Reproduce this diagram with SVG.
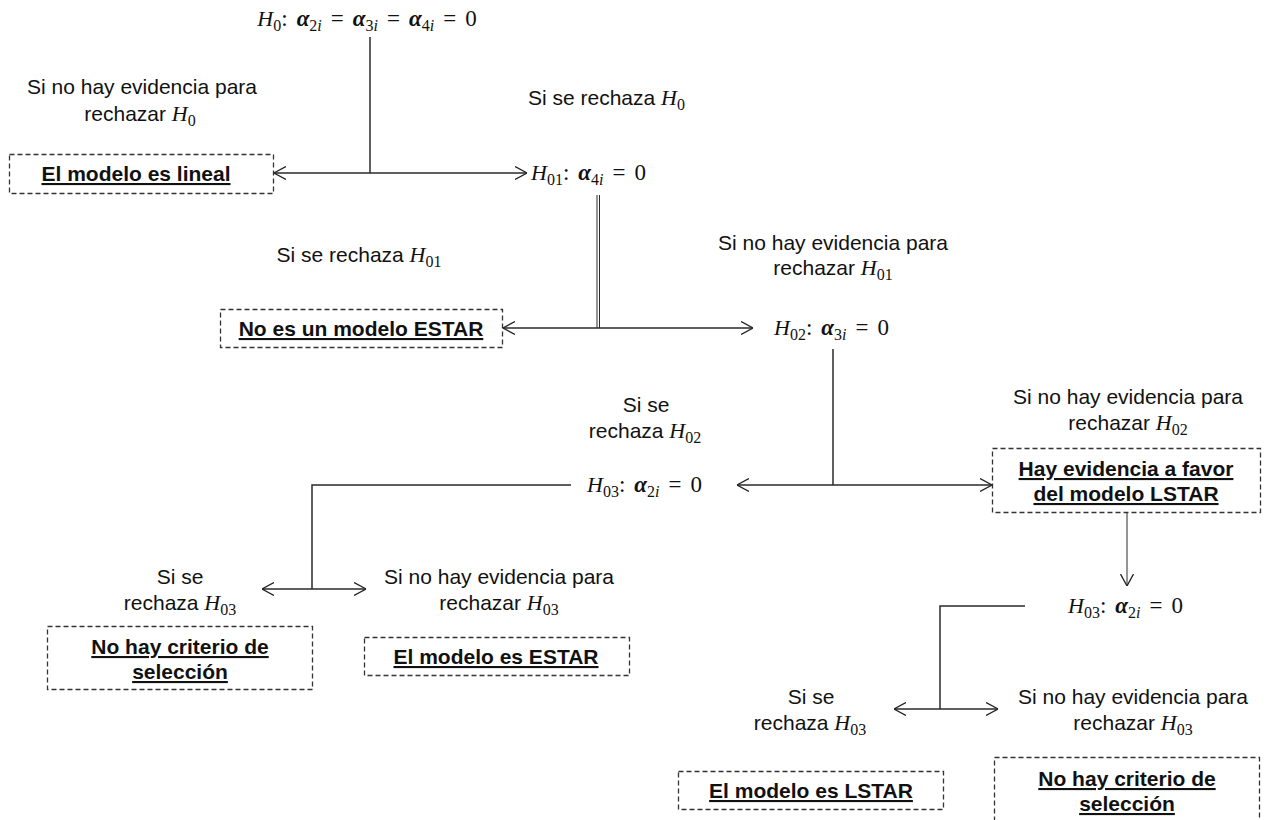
<svg xmlns="http://www.w3.org/2000/svg" width="1265" height="820" viewBox="0 0 1265 820">
<style>
.t{font-family:"Liberation Sans",Arial,sans-serif;font-size:21px;fill:#111;text-anchor:middle}
.ts{text-anchor:start}
.b{font-family:"Liberation Sans",Arial,sans-serif;font-size:21px;font-weight:bold;fill:#111;text-anchor:middle;text-decoration:underline}
.m{font-family:"Liberation Serif","DejaVu Serif",serif;font-size:23px;fill:#111}
.h{font-family:"Liberation Serif","DejaVu Serif",serif;font-style:italic;font-size:22px}
.s{font-family:"Liberation Serif","DejaVu Serif",serif;font-size:16px;font-style:normal;font-weight:normal}
.a{font-weight:bold;font-style:italic}
.i{font-style:italic}
.box{fill:none;stroke:#333;stroke-width:1.3;stroke-dasharray:5,3}
.c{fill:none;stroke:#2a2a2a;stroke-width:1.5}
.c1{fill:none;stroke:#2a2a2a;stroke-width:1}
</style>
<defs>
<marker id="ah" viewBox="0 0 12 14" refX="12" refY="7" markerWidth="12" markerHeight="14" markerUnits="userSpaceOnUse" orient="auto-start-reverse">
<path d="M0,0.5 L12,7 L0,13.5" fill="none" stroke="#222" stroke-width="1.3"/>
</marker>
</defs>
<g id="connectors">
<line class="c" x1="370" y1="37" x2="370" y2="173"/>
<line class="c" x1="274" y1="173" x2="527" y2="173" marker-start="url(#ah)" marker-end="url(#ah)"/>
<line class="c1" x1="597" y1="195" x2="597" y2="328"/>
<line class="c1" x1="599.5" y1="195" x2="599.5" y2="328"/>
<line class="c" x1="503" y1="328" x2="753" y2="328" marker-start="url(#ah)" marker-end="url(#ah)"/>
<line class="c" x1="833" y1="349" x2="833" y2="485"/>
<line class="c" x1="737" y1="485" x2="992" y2="485" marker-start="url(#ah)" marker-end="url(#ah)"/>
<line class="c1" x1="1127" y1="513" x2="1127" y2="586" marker-end="url(#ah)"/>
<polyline class="c" points="1025,606 940,606 940,709"/>
<line class="c" x1="894" y1="709" x2="998" y2="709" marker-start="url(#ah)" marker-end="url(#ah)"/>
<polyline class="c" points="571,485 312,485 312,589"/>
<line class="c" x1="262" y1="589" x2="366" y2="589" marker-start="url(#ah)" marker-end="url(#ah)"/>
</g>
<g id="h0">
<text class="m" x="367" y="26" text-anchor="middle"><tspan class="h" font-size="23">H</tspan><tspan class="s" dy="5">0</tspan><tspan dy="-5">:</tspan><tspan class="a" dx="9">α</tspan><tspan class="s" dy="5">2<tspan class="i">i</tspan></tspan><tspan dy="-5" dx="9">=</tspan><tspan class="a" dx="9">α</tspan><tspan class="s" dy="5">3<tspan class="i">i</tspan></tspan><tspan dy="-5" dx="9">=</tspan><tspan class="a" dx="9">α</tspan><tspan class="s" dy="5">4<tspan class="i">i</tspan></tspan><tspan dy="-5" dx="9">=</tspan><tspan dx="9">0</tspan></text>
</g>
<g id="lbl-h0-no">
<text class="t" x="142" y="94">Si no hay evidencia para</text>
<text class="t" x="140" y="121">rechazar <tspan class="h">H</tspan><tspan class="s" dy="5">0</tspan></text>
</g>
<g id="box-lineal">
<rect class="box" x="9.5" y="154.5" width="264" height="39"/>
<text class="b" x="136" y="181">El modelo es lineal</text>
</g>
<g id="lbl-h0-si">
<text class="t ts" x="528" y="105">Si se rechaza <tspan class="h">H</tspan><tspan class="s" dy="5">0</tspan></text>
</g>
<g id="h01">
<text class="m" x="531" y="180"><tspan class="h" font-size="23">H</tspan><tspan class="s" dy="5">01</tspan><tspan dy="-5">:</tspan><tspan class="a" dx="9">α</tspan><tspan class="s" dy="5">4<tspan class="i">i</tspan></tspan><tspan dy="-5" dx="9">=</tspan><tspan dx="9">0</tspan></text>
</g>
<g id="lbl-h01-si">
<text class="t" x="359" y="262">Si se rechaza <tspan class="h">H</tspan><tspan class="s" dy="5">01</tspan></text>
</g>
<g id="lbl-h01-no">
<text class="t" x="833" y="250">Si no hay evidencia para</text>
<text class="t" x="833" y="275">rechazar <tspan class="h">H</tspan><tspan class="s" dy="5">01</tspan></text>
</g>
<g id="box-noestar">
<rect class="box" x="220.5" y="309.5" width="282" height="38"/>
<text class="b" x="361" y="336">No es un modelo ESTAR</text>
</g>
<g id="h02">
<text class="m" x="774" y="335"><tspan class="h" font-size="23">H</tspan><tspan class="s" dy="5">02</tspan><tspan dy="-5">:</tspan><tspan class="a" dx="9">α</tspan><tspan class="s" dy="5">3<tspan class="i">i</tspan></tspan><tspan dy="-5" dx="9">=</tspan><tspan dx="9">0</tspan></text>
</g>
<g id="lbl-h02-si">
<text class="t" x="646" y="412">Si se</text>
<text class="t" x="645" y="438">rechaza <tspan class="h">H</tspan><tspan class="s" dy="5">02</tspan></text>
</g>
<g id="h03-left">
<text class="m" x="587" y="492"><tspan class="h" font-size="23">H</tspan><tspan class="s" dy="5">03</tspan><tspan dy="-5">:</tspan><tspan class="a" dx="9">α</tspan><tspan class="s" dy="5">2<tspan class="i">i</tspan></tspan><tspan dy="-5" dx="9">=</tspan><tspan dx="9">0</tspan></text>
</g>
<g id="lbl-h02-no">
<text class="t" x="1128" y="404">Si no hay evidencia para</text>
<text class="t" x="1128" y="430">rechazar <tspan class="h">H</tspan><tspan class="s" dy="5">02</tspan></text>
</g>
<g id="box-lstar-evid">
<rect class="box" x="992.5" y="448.5" width="268" height="64"/>
<text class="b" x="1126" y="476">Hay evidencia a favor</text>
<text class="b" x="1126" y="501">del modelo LSTAR</text>
</g>
<g id="h03-right">
<text class="m" x="1068" y="613"><tspan class="h" font-size="23">H</tspan><tspan class="s" dy="5">03</tspan><tspan dy="-5">:</tspan><tspan class="a" dx="9">α</tspan><tspan class="s" dy="5">2<tspan class="i">i</tspan></tspan><tspan dy="-5" dx="9">=</tspan><tspan dx="9">0</tspan></text>
</g>
<g id="lbl-h03r-si">
<text class="t" x="811" y="704">Si se</text>
<text class="t" x="810" y="730">rechaza <tspan class="h">H</tspan><tspan class="s" dy="5">03</tspan></text>
</g>
<g id="lbl-h03r-no">
<text class="t" x="1133" y="704">Si no hay evidencia para</text>
<text class="t" x="1133" y="730">rechazar <tspan class="h">H</tspan><tspan class="s" dy="5">03</tspan></text>
</g>
<g id="box-lstar">
<rect class="box" x="678.5" y="771.5" width="265" height="38"/>
<text class="b" x="811" y="798">El modelo es LSTAR</text>
</g>
<g id="box-nocrit-right">
<rect class="box" x="994.5" y="757.5" width="265" height="75"/>
<text class="b" x="1127" y="786">No hay criterio de</text>
<text class="b" x="1127" y="811">selección</text>
</g>
<g id="lbl-h03l-si">
<text class="t" x="180" y="584">Si se</text>
<text class="t" x="180" y="610">rechaza <tspan class="h">H</tspan><tspan class="s" dy="5">03</tspan></text>
</g>
<g id="lbl-h03l-no">
<text class="t" x="499" y="584">Si no hay evidencia para</text>
<text class="t" x="499" y="610">rechazar <tspan class="h">H</tspan><tspan class="s" dy="5">03</tspan></text>
</g>
<g id="box-nocrit-left">
<rect class="box" x="47.5" y="626.5" width="265" height="63"/>
<text class="b" x="180" y="654">No hay criterio de</text>
<text class="b" x="180" y="679">selección</text>
</g>
<g id="box-estar">
<rect class="box" x="364.5" y="637.5" width="265" height="38"/>
<text class="b" x="496" y="664">El modelo es ESTAR</text>
</g>
</svg>
